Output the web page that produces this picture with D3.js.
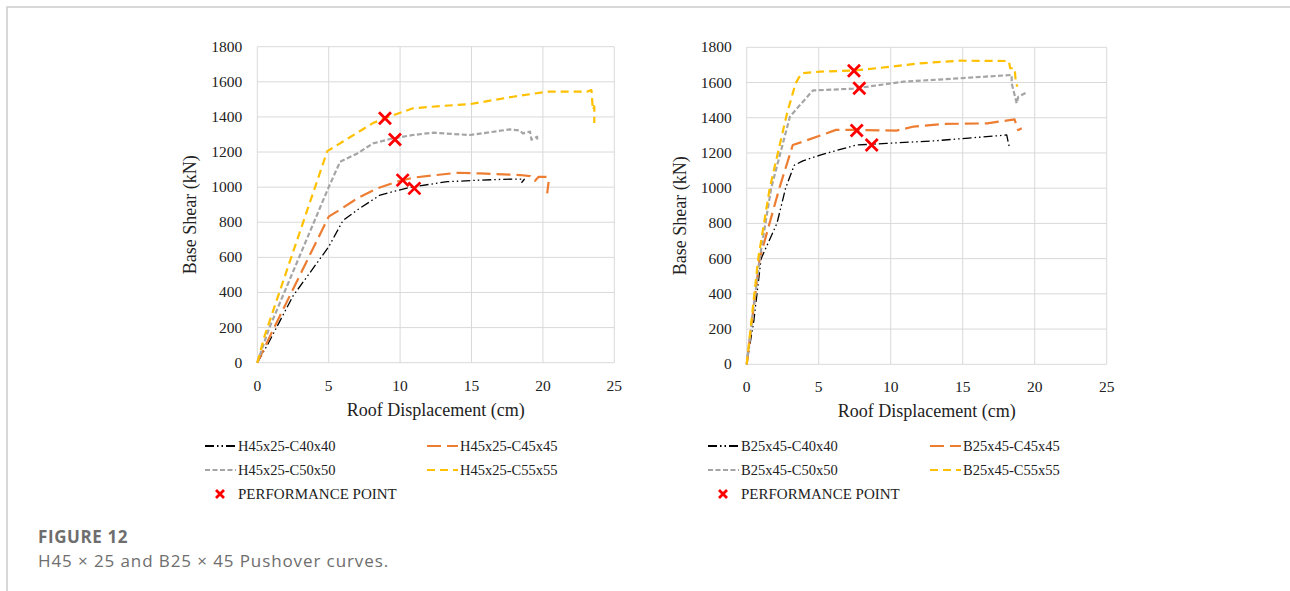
<!DOCTYPE html>
<html lang="en">
<head>
<meta charset="UTF-8">
<title>Pushover curves</title>
<script src="https://d3js.org/d3.v7.min.js"></script>
<style>
  body { margin: 0; background: #fff; }
  svg text { font-family: "Liberation Serif", "DejaVu Serif", serif; fill: #222; }
</style>
</head>
<body>
<script>
// tick labels
var xTicks = [0, 5, 10, 15, 20, 25];
var yTicks = [0, 200, 400, 600, 800, 1000, 1200, 1400, 1600, 1800];

// left panel: H45x25 series, [roof displacement cm, base shear kN]
var H40 = [[0,0],[0.7,100],[2.5,380],[5.0,660],[6.0,810],[7.0,870],[8.6,955],[10.0,985],[10.9,1002],[13.3,1031],[15.6,1040],[17.9,1046],[18.7,1045],[18.5,1025]];
var H45 = [[0,0],[1.0,170],[5.0,832],[5.6,862],[7.0,936],[8.4,993],[9.8,1031],[10.9,1054],[14.0,1082],[15.6,1078],[18.4,1069],[19.1,1063],[19.2,1048],[19.45,1036],[19.7,1059],[20.3,1059],[20.4,1031],[20.3,965]];
var H50 = [[0,0],[0.8,190],[5.0,1000],[5.8,1145],[7.0,1192],[8.1,1249],[9.5,1278],[10.9,1297],[12.3,1310],[14.9,1297],[17.7,1329],[18.4,1322],[18.6,1306],[19.1,1316],[19.2,1270],[19.6,1287],[19.6,1259]];
var H55 = [[0,0],[0.5,150],[4.9,1205],[6.0,1260],[8.1,1365],[9.0,1395],[10.9,1449],[12.8,1462],[14.9,1473],[17.9,1515],[20.3,1544],[23.1,1544],[23.4,1553],[23.5,1440],[23.6,1460],[23.6,1365]];
var HPerf = [[8.94,1392],[9.64,1272],[10.18,1040],[11.0,993]];

// right panel: B25x45 series
var B40 = [[0,0],[0.5,250],[1.0,600],[2.1,800],[2.7,1000],[3.3,1130],[3.9,1155],[5.1,1188],[7.6,1245],[9.7,1254],[13.2,1270],[18.06,1302],[18.2,1245],[18.3,1226]];
var B45 = [[0,0],[0.9,600],[2.3,1009],[3.2,1245],[3.9,1264],[6.2,1331],[7.6,1331],[10.4,1327],[11.6,1350],[13.7,1365],[16.7,1368],[18.6,1391],[18.85,1330],[19.1,1340]];
var B50 = [[0,0],[0.9,600],[1.7,1000],[3.0,1406],[3.6,1463],[4.6,1555],[7.4,1565],[10.9,1605],[14.8,1624],[18.4,1643],[18.4,1596],[18.75,1482],[18.86,1519],[19.4,1542]];
var B55 = [[0,0],[0.8,600],[1.6,1000],[2.8,1425],[3.4,1596],[3.8,1652],[5.1,1662],[7.4,1668],[9.7,1687],[12.0,1709],[14.8,1724],[18.2,1722],[18.3,1681],[18.6,1681],[18.7,1596],[18.8,1577]];
var BPerf = [[7.45,1667],[7.82,1567],[7.64,1327],[8.68,1245]];

var hNames = ["H45x25-C40x40", "H45x25-C45x45", "H45x25-C50x50", "H45x25-C55x55"];
var bNames = ["B25x45-C40x40", "B25x45-C45x45", "B25x45-C50x50", "B25x45-C55x55"];

// line styles per column size
var styles = [
  { color: "#000000", width: 1.3, dash: "9,3,1.5,3,1.5,3" },
  { color: "#ED7D31", width: 2.2, dash: "14,6" },
  { color: "#A5A5A5", width: 2.2, dash: "5,2.5" },
  { color: "#FFC000", width: 2.2, dash: "8,5" }
];

var svg = d3.select("body").append("svg")
  .attr("width", 1290).attr("height", 591);

// figure frame
svg.append("path")
  .attr("d", "M7,591 V7 H1290")
  .attr("fill", "none").attr("stroke", "#cccccc").attr("stroke-width", 1.5);

function panel(opt) {
  var x = d3.scaleLinear().domain([0, 25]).range([opt.x0, opt.x1]);
  var y = d3.scaleLinear().domain([0, 1800]).range([opt.y0, opt.y1]);
  var g = svg.append("g");

  // grid
  g.selectAll(".gx").data(xTicks).enter().append("line")
    .attr("x1", d => x(d)).attr("x2", d => x(d))
    .attr("y1", y(0)).attr("y2", y(1800))
    .attr("stroke", "#d9d9d9").attr("stroke-width", 1);
  g.selectAll(".gy").data(yTicks).enter().append("line")
    .attr("x1", x(0)).attr("x2", x(25))
    .attr("y1", d => y(d)).attr("y2", d => y(d))
    .attr("stroke", "#d9d9d9").attr("stroke-width", 1);

  // tick labels
  g.selectAll(".tx").data(xTicks).enter().append("text")
    .attr("x", d => x(d)).attr("y", y(0) + 28)
    .attr("text-anchor", "middle").attr("font-size", 15.5)
    .text(d => d);
  g.selectAll(".ty").data(yTicks).enter().append("text")
    .attr("x", x(0) - 15).attr("y", d => y(d) + 5)
    .attr("text-anchor", "end").attr("font-size", 15.5)
    .text(d => d);

  // axis titles
  g.append("text")
    .attr("x", (x(0) + x(25)) / 2).attr("y", y(0) + 53)
    .attr("text-anchor", "middle").attr("font-size", 18)
    .text("Roof Displacement (cm)");
  g.append("text")
    .attr("transform", "translate(" + (x(0) - 61) + "," + ((y(0) + y(1800)) / 2 + 10) + ") rotate(-90)")
    .attr("text-anchor", "middle").attr("font-size", 18)
    .text("Base Shear (kN)");

  var line = d3.line().x(d => x(d[0])).y(d => y(d[1]));

  opt.series.forEach(function (s, i) {
    g.append("path").datum(s)
      .attr("d", line)
      .attr("fill", "none")
      .attr("stroke", styles[i].color)
      .attr("stroke-width", styles[i].width)
      .attr("stroke-dasharray", styles[i].dash)
      .attr("stroke-linejoin", "round");
  });

  // performance points
  var cross = function (sel, r) {
    sel.append("path")
      .attr("d", "M" + (-r) + "," + (-r) + "L" + r + "," + r + "M" + (-r) + "," + r + "L" + r + "," + (-r))
      .attr("stroke", "#ff0000").attr("stroke-width", 2.8).attr("fill", "none");
  };
  g.selectAll(".pp").data(opt.perf).enter().append("g")
    .attr("transform", d => "translate(" + x(d[0]) + "," + y(d[1]) + ")")
    .call(cross, 6);

  // legend
  var leg = g.append("g");
  var cols = [opt.lx, opt.lx + 222];
  var rows = [446, 470];
  opt.names.forEach(function (n, i) {
    var lx = cols[i % 2], ly = rows[Math.floor(i / 2)];
    leg.append("line")
      .attr("x1", lx).attr("x2", lx + 31).attr("y1", ly).attr("y2", ly)
      .attr("stroke", styles[i].color)
      .attr("stroke-width", i === 0 ? 2 : styles[i].width)
      .attr("stroke-dasharray", styles[i].dash);
    leg.append("text").attr("x", lx + 33).attr("y", ly + 5)
      .attr("font-size", 14.5).text(n);
  });
  leg.append("g").attr("transform", "translate(" + (cols[0] + 15) + ",494)").call(cross, 4);
  leg.append("text").attr("x", cols[0] + 33).attr("y", 499)
    .attr("font-size", 15).text("PERFORMANCE POINT");
}

panel({ x0: 257.3, x1: 614.3, y0: 362.7, y1: 46.7, series: [H40, H45, H50, H55], perf: HPerf, names: hNames, lx: 205 });
panel({ x0: 746.7, x1: 1106.7, y0: 364.3, y1: 47.3, series: [B40, B45, B50, B55], perf: BPerf, names: bNames, lx: 708 });

// caption
svg.append("text").attr("x", 38).attr("y", 543)
  .attr("font-size", 17).attr("font-weight", "bold").attr("letter-spacing", 0.6)
  .style("font-family", "'Open Sans', Lato, sans-serif").style("fill", "#6e6e6e")
  .text("FIGURE 12");
svg.append("text").attr("x", 38).attr("y", 567)
  .attr("font-size", 17).attr("letter-spacing", 0.9)
  .style("font-family", "'Open Sans', Lato, sans-serif").style("fill", "#6e6e6e")
  .text("H45 \u00d7 25 and B25 \u00d7 45 Pushover curves.");
</script>
</body>
</html>
